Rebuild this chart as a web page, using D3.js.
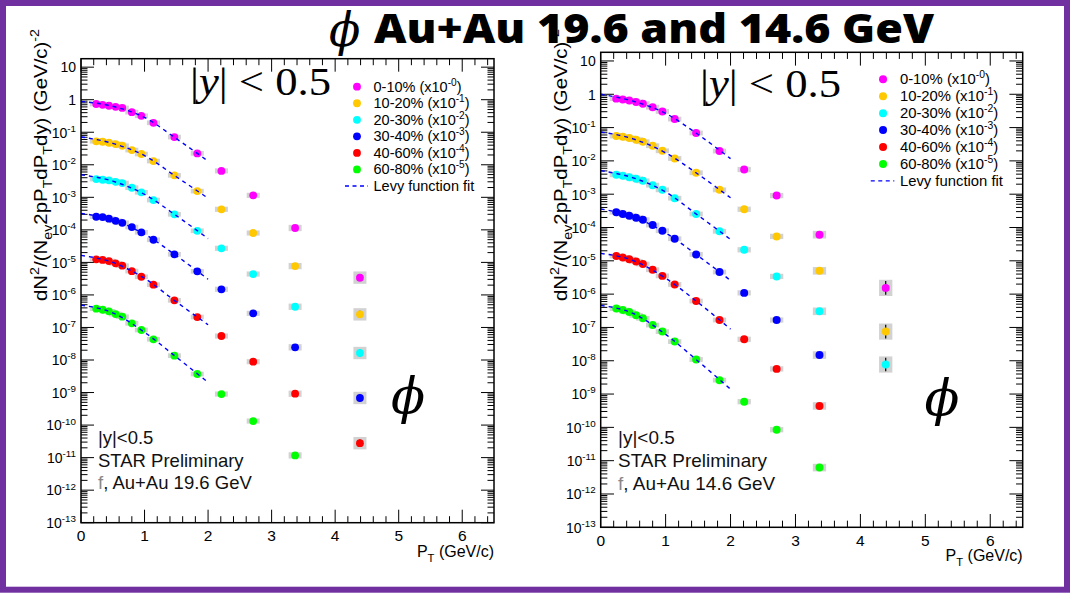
<!DOCTYPE html>
<html><head><meta charset="utf-8">
<script src="https://cdn.jsdelivr.net/npm/d3@7"></script>
<style>body{margin:0;background:#fff} svg{display:block}</style>
</head><body>
<svg id="c" width="1077" height="606"></svg>
<script>
// ---------------- data ----------------
const centralities = ["0-10%", "10-20%", "20-30%", "30-40%", "40-60%", "60-80%"];
const scaleExps = ["-0", "-1", "-2", "-3", "-4", "-5"];
const colors = ["#ff00ff", "#ffc800", "#00ffff", "#0000ff", "#ff0000", "#00ff00"];
const pT = [0.24, 0.34, 0.44, 0.545, 0.65, 0.80, 0.95, 1.14, 1.47, 1.83, 2.21, 2.71, 3.37, 4.39];
const fitPT = [0, 0.5, 1.0, 1.5, 2.0];
const yTickExps = [1, 0, -1, -2, -3, -4, -5, -6, -7, -8, -9, -10, -11, -12, -13];
const xTicks = [0, 1, 2, 3, 4, 5, 6];

// Au+Au 19.6 GeV
const au19_0_10  = [0.737, 0.698, 0.651, 0.604, 0.557, 0.415, 0.320, 0.195, 0.0710, 0.0224, 6.49e-3, 1.15e-3, 1.14e-4, 3.40e-6];
const au19_10_20 = [0.0527, 0.0510, 0.0475, 0.0434, 0.0384, 0.0283, 0.0214, 0.0130, 4.73e-3, 1.55e-3, 4.28e-4, 8.0e-5, 7.7e-6, 2.53e-7];
const au19_20_30 = [3.64e-3, 3.46e-3, 3.32e-3, 3.00e-3, 2.74e-3, 1.97e-3, 1.42e-3, 8.24e-4, 3.00e-4, 9.36e-5, 2.71e-5, 4.39e-6, 4.34e-7, 1.64e-8];
const au19_30_40 = [2.53e-4, 2.47e-4, 2.20e-4, 1.90e-4, 1.65e-4, 1.22e-4, 8.4e-5, 4.96e-5, 1.77e-5, 5.31e-6, 1.49e-6, 2.72e-7, 2.45e-8, 6.8e-10];
const au19_40_60 = [1.24e-5, 1.19e-5, 1.10e-5, 9.35e-6, 7.9e-6, 5.39e-6, 3.62e-6, 2.06e-6, 6.81e-7, 2.09e-7, 5.46e-8, 8.87e-9, 9.2e-10, 2.78e-11];
const au19_60_80 = [3.77e-7, 3.50e-7, 3.13e-7, 2.58e-7, 2.14e-7, 1.34e-7, 8.35e-8, 4.33e-8, 1.36e-8, 3.71e-9, 9.0e-10, 1.33e-10, 1.17e-11];
const au19_fit_0_10  = [0.885, 0.627, 0.284, 0.0638, 0.0129];
const au19_fit_10_20 = [0.0718, 0.0454, 0.0191, 4.29e-3, 9.35e-4];
const au19_fit_20_30 = [4.94e-3, 3.14e-3, 1.23e-3, 2.73e-4, 5.39e-5];
const au19_fit_30_40 = [3.2e-4, 2.03e-4, 7.41e-5, 1.61e-5, 3.04e-6];
const au19_fit_40_60 = [1.64e-5, 9.96e-6, 3.23e-6, 6.11e-7, 1.21e-7];
const au19_fit_60_80 = [4.87e-7, 2.81e-7, 7.1e-8, 1.23e-8, 2.07e-9];
const au19_sysRel  = [0.18, 0.18, 0.18, 0.18, 0.18, 0.18, 0.18, 0.18, 0.18, 0.18, 0.2, 0.2, 0.25, 0.55];
const au19_statRel = [0.04, 0.04, 0.04, 0.04, 0.04, 0.04, 0.04, 0.04, 0.04, 0.04, 0.04, 0.05, 0.08, 0.3];

// Au+Au 14.6 GeV
const au14_0_10  = [0.74, 0.70, 0.655, 0.59, 0.52, 0.41, 0.305, 0.18, 0.0687, 0.0197, 5.5e-3, 9.1e-4, 6.1e-5, 1.54e-6];
const au14_10_20 = [0.0558, 0.0532, 0.0486, 0.0433, 0.0376, 0.0285, 0.0201, 0.0118, 4.39e-3, 1.35e-3, 3.53e-4, 5.4e-5, 5.0e-6, 7.5e-8];
const au14_20_30 = [3.81e-3, 3.56e-3, 3.25e-3, 2.89e-3, 2.52e-3, 1.87e-3, 1.35e-3, 7.6e-4, 2.55e-4, 7.7e-5, 2.14e-5, 3.4e-6, 3.05e-7, 7.7e-9];
const au14_30_40 = [2.87e-4, 2.55e-4, 2.26e-4, 1.97e-4, 1.72e-4, 1.19e-4, 8.0e-5, 4.6e-5, 1.56e-5, 4.6e-6, 1.09e-6, 1.67e-7, 1.48e-8];
const au14_40_60 = [1.39e-5, 1.26e-5, 1.12e-5, 9.6e-6, 8.0e-6, 5.4e-6, 3.53e-6, 1.95e-6, 6.2e-7, 1.67e-7, 4.4e-8, 5.7e-9, 4.4e-10];
const au14_60_80 = [3.68e-7, 3.34e-7, 2.91e-7, 2.31e-7, 1.88e-7, 1.18e-7, 7.5e-8, 3.76e-8, 1.09e-8, 2.61e-9, 5.9e-10, 8.5e-11, 6.2e-12];
const au14_fit_0_10  = [1.0, 0.62, 0.267, 0.062, 0.0117];
const au14_fit_10_20 = [0.074, 0.0457, 0.0175, 3.98e-3, 7.8e-4];
const au14_fit_20_30 = [5.1e-3, 3.1e-3, 1.16e-3, 2.31e-4, 4.4e-5];
const au14_fit_30_40 = [3.6e-4, 2.1e-4, 6.9e-5, 1.41e-5, 2.57e-6];
const au14_fit_40_60 = [1.67e-5, 1.02e-5, 3.0e-6, 5.6e-7, 8.9e-8];
const au14_fit_60_80 = [4.6e-7, 2.63e-7, 6.2e-8, 9.7e-9, 1.4e-9];
const au14_sysRel  = [0.18, 0.18, 0.18, 0.18, 0.18, 0.18, 0.18, 0.18, 0.18, 0.18, 0.2, 0.2, 0.3, 0.75];
const au14_statRel = [0.04, 0.04, 0.04, 0.04, 0.04, 0.04, 0.04, 0.04, 0.04, 0.04, 0.04, 0.05, 0.08, 0.6];

// ---------------- drawing ----------------
const svg = d3.select("#c");
const SANS = "'Liberation Sans', Arial, sans-serif";

svg.append("rect").attr("x", 0).attr("y", 0).attr("width", 1077).attr("height", 606).attr("fill", "#fff");
svg.append("rect").attr("x", 3).attr("y", 3).attr("width", 1064).attr("height", 586.7)
  .attr("fill", "#fff").attr("stroke", "#7030a0").attr("stroke-width", 6);

// title
svg.append("text").attr("x", 329).attr("y", 46)
  .style("font-family", "'DejaVu Serif', serif").style("font-style", "italic").style("font-size", "46px")
  .text("ϕ");
svg.append("text").attr("x", 374).attr("y", 43)
  .style("font-family", "'Open Sans', sans-serif").style("font-weight", "800").style("font-size", "40px")
  .attr("textLength", 560).attr("lengthAdjust", "spacingAndGlyphs")
  .text("Au+Au 19.6 and 14.6 GeV");

function rich(textSel, parts, fs) {
  let cur = 0;
  parts.forEach(([t, m]) => {
    const target = m === "sup" ? -0.42 * fs : m === "sub" ? 0.3 * fs : 0;
    const ts = textSel.append("tspan").attr("dy", target - cur).text(t);
    if (m) ts.style("font-size", (0.7 * fs) + "px");
    cur = target;
  });
}

function drawPanel(cfg) {
  const x = d3.scaleLinear().domain([0, 6.5]).range([cfg.x0, cfg.x1]);
  const y = d3.scaleLog().domain([1e-13, Math.pow(10, 1.26)]).range([cfg.y1, cfg.y0]);
  const g = svg.append("g");
  const s = cfg.s; // size factor

  // ticks x
  const xMinor = d3.range(0, 6.5001, 0.2).filter(v => Math.abs(v - Math.round(v)) > 1e-6);
  const tk = g.append("g").attr("stroke", "#000").attr("stroke-width", 1);
  xTicks.forEach(v => {
    tk.append("line").attr("x1", x(v)).attr("x2", x(v)).attr("y1", cfg.y1).attr("y2", cfg.y1 - 13 * s);
    tk.append("line").attr("x1", x(v)).attr("x2", x(v)).attr("y1", cfg.y0).attr("y2", cfg.y0 + 13 * s);
  });
  xMinor.forEach(v => {
    tk.append("line").attr("x1", x(v)).attr("x2", x(v)).attr("y1", cfg.y1).attr("y2", cfg.y1 - 6.5 * s);
    tk.append("line").attr("x1", x(v)).attr("x2", x(v)).attr("y1", cfg.y0).attr("y2", cfg.y0 + 6.5 * s);
  });
  // ticks y
  const yMinor = [];
  for (let e = -13; e <= 1; e++) for (let m = 2; m <= 9; m++) {
    const v = m * Math.pow(10, e);
    if (v <= y.domain()[1]) yMinor.push(v);
  }
  yTickExps.forEach(e => {
    const v = Math.pow(10, e);
    tk.append("line").attr("x1", cfg.x0).attr("x2", cfg.x0 + 13 * s).attr("y1", y(v)).attr("y2", y(v));
    tk.append("line").attr("x1", cfg.x1).attr("x2", cfg.x1 - 13 * s).attr("y1", y(v)).attr("y2", y(v));
  });
  yMinor.forEach(v => {
    tk.append("line").attr("x1", cfg.x0).attr("x2", cfg.x0 + 6.5 * s).attr("y1", y(v)).attr("y2", y(v));
    tk.append("line").attr("x1", cfg.x1).attr("x2", cfg.x1 - 6.5 * s).attr("y1", y(v)).attr("y2", y(v));
  });

  // tick labels
  yTickExps.forEach(e => {
    const t = g.append("text").attr("x", cfg.x0 - 5).attr("y", y(Math.pow(10, e)) + 5.3)
      .attr("text-anchor", "end").style("font-family", SANS).style("font-size", "14px").attr("fill", "#000");
    if (e === 1) t.text("10");
    else if (e === 0) t.text("1");
    else rich(t, [["10", ""], [String(e), "sup"]], 14);
  });
  xTicks.forEach(v => {
    g.append("text").attr("x", x(v)).attr("y", cfg.y1 + 18.5).attr("text-anchor", "middle")
      .style("font-family", SANS).style("font-size", "15.5px").text(String(v));
  });
  // axis titles
  const xt = g.append("text").attr("x", cfg.x1).attr("y", cfg.y1 + 34).attr("text-anchor", "end")
    .style("font-family", SANS).style("font-size", "16px");
  rich(xt, [["P", ""], ["T", "sub"], [" (GeV/c)", ""]], 16);
  const yt = g.append("text").attr("transform", `translate(${cfg.ytx},${cfg.yty}) rotate(-90)`)
    .attr("text-anchor", "end").style("font-family", SANS).style("font-size", "18px")
    .attr("textLength", 272).attr("lengthAdjust", "spacingAndGlyphs");
  rich(yt, [["dN", ""], ["2", "sup"], ["/(N", ""], ["ev", "sub"], ["2pP", ""], ["T", "sub"], ["dP", ""], ["T", "sub"], ["dy) (GeV/c)", ""], ["-2", "sup"]], 18);

  // data
  cfg.series.forEach((vals, i) => {
    const sg = g.append("g");
    vals.forEach((v, j) => {
      const hw = 6.5 * s;
      const y1 = y(v * (1 + cfg.sys[j])), y2 = y(v / (1 + cfg.sys[j]));
      sg.append("rect").attr("x", x(pT[j]) - hw).attr("width", 2 * hw)
        .attr("y", y1).attr("height", y2 - y1).attr("fill", "#d2d2d2");
      const e1 = y(v * (1 + cfg.stat[j])), e2 = y(v / (1 + cfg.stat[j]));
      sg.append("line").attr("x1", x(pT[j])).attr("x2", x(pT[j])).attr("y1", e1).attr("y2", e2)
        .attr("stroke", "#000").attr("stroke-width", 1.2);
    });
    sg.selectAll("circle").data(vals).join("circle")
      .attr("cx", (d, j) => x(pT[j])).attr("cy", d => y(d)).attr("r", 3.9 * s).attr("fill", colors[i]);
  });
  const line = d3.line().x(d => x(d[0])).y(d => y(d[1])).curve(d3.curveMonotoneX);
  cfg.fits.forEach(f => {
    g.append("path").attr("d", line(fitPT.map((p, k) => [p, f[k]])))
      .attr("fill", "none").attr("stroke", "#0000ff").attr("stroke-width", 1.4).attr("stroke-dasharray", "4,4");
  });

  // frame
  g.append("rect").attr("x", cfg.x0).attr("y", cfg.y0).attr("width", cfg.x1 - cfg.x0).attr("height", cfg.y1 - cfg.y0)
    .attr("fill", "none").attr("stroke", "#000").attr("stroke-width", 1.5);

  // |y| < 0.5 label
  const yl = g.append("text").attr("x", cfg.yLabX).attr("y", cfg.yLabY)
    .style("font-family", "'Liberation Serif', serif").style("font-size", "39px")
    .attr("textLength", 141).attr("lengthAdjust", "spacingAndGlyphs");
  yl.append("tspan").text("|");
  yl.append("tspan").style("font-style", "italic").text("y");
  yl.append("tspan").text("| < 0.5");

  // legend
  const lx = cfg.x0 + 276 * s, ly = cfg.legY, dy = 16.55 * s;
  centralities.forEach((c, i) => {
    g.append("circle").attr("cx", lx).attr("cy", ly + i * dy).attr("r", 3.9 * s).attr("fill", colors[i]);
    const t = g.append("text").attr("x", lx + 16.5 * s).attr("y", ly + i * dy + 5)
      .style("font-family", SANS).style("font-size", (14.5 * s) + "px");
    rich(t, [[c + " (x10", ""], [scaleExps[i], "sup"], [")", ""]], 14.5 * s);
  });
  g.append("line").attr("x1", lx - 12 * s).attr("x2", lx + 11 * s).attr("y1", ly + 6 * dy).attr("y2", ly + 6 * dy)
    .attr("stroke", "#0000ff").attr("stroke-width", 1.4).attr("stroke-dasharray", "4,3.5");
  g.append("text").attr("x", lx + 16.5 * s).attr("y", ly + 6 * dy + 5)
    .style("font-family", SANS).style("font-size", (14.5 * s) + "px").text("Levy function fit");

  // bottom-left text
  const bx = cfg.x0 + 17 * s;
  [["|y|<0.5", cfg.by0], ["STAR Preliminary", cfg.by0 + 22.5 * s]].forEach(([t, yy]) => {
    g.append("text").attr("x", bx).attr("y", yy).style("font-family", SANS).style("font-size", (18.5 * s) + "px")
      .attr("fill", "#111").text(t);
  });
  const lt = g.append("text").attr("x", bx).attr("y", cfg.by0 + 45 * s).style("font-family", SANS)
    .style("font-size", (18.5 * s) + "px").attr("fill", "#111");
  lt.append("tspan").attr("fill", "#888").text("f");
  lt.append("tspan").text(", " + cfg.energy);

  // big phi
  g.append("text").attr("x", cfg.phiX).attr("y", cfg.phiY).attr("text-anchor", "middle")
    .style("font-family", "'DejaVu Serif', serif").style("font-style", "italic").style("font-size", (50 * s) + "px")
    .text("ϕ");
}

drawPanel({
  x0: 81, x1: 494, y0: 58.7, y1: 522.7, s: 1, ytx: 47, yty: 29, by0: 444, phiX: 408, phiY: 413,
  yLabX: 190, yLabY: 95, legY: 86.7, energy: "Au+Au 19.6 GeV",
  series: [au19_0_10, au19_10_20, au19_20_30, au19_30_40, au19_40_60, au19_60_80],
  fits: [au19_fit_0_10, au19_fit_10_20, au19_fit_20_30, au19_fit_30_40, au19_fit_40_60, au19_fit_60_80],
  sys: au19_sysRel, stat: au19_statRel
});
drawPanel({
  x0: 600.7, x1: 1022.7, y0: 52.3, y1: 527.3, s: 1.023, ytx: 567, yty: 29, by0: 444, phiX: 942, phiY: 415,
  yLabX: 700, yLabY: 97, legY: 79.3, energy: "Au+Au 14.6 GeV",
  series: [au14_0_10, au14_10_20, au14_20_30, au14_30_40, au14_40_60, au14_60_80],
  fits: [au14_fit_0_10, au14_fit_10_20, au14_fit_20_30, au14_fit_30_40, au14_fit_40_60, au14_fit_60_80],
  sys: au14_sysRel, stat: au14_statRel
});
</script>
</body></html>
